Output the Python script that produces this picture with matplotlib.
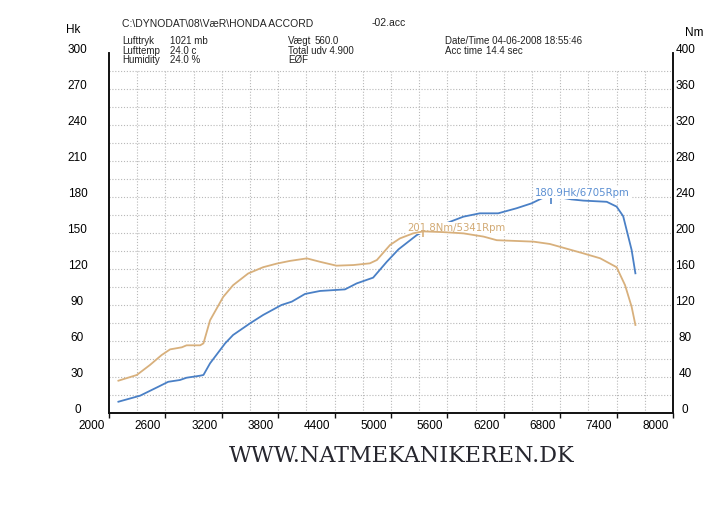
import matplotlib
matplotlib.use("Agg")
import matplotlib.pyplot as plt
from matplotlib.transforms import ScaledTranslation, offset_copy

# ---------------- data ----------------
rpm_hk = [2100, 2330, 2525, 2630, 2755, 2825, 2970, 3005, 3075, 3235, 3320, 3500,
          3640, 3835, 3945, 4085, 4245, 4510, 4635, 4810, 4955, 5080, 5275, 5341,
          5500, 5630, 5770, 5945, 6140, 6335, 6495, 6605, 6705, 6920, 7045, 7295,
          7400, 7470, 7560, 7600]
hk = [9.4, 14.4, 21.9, 26.0, 27.5, 29.4, 31.1, 31.7, 41.4, 58.0, 65.0, 74.7,
      81.7, 90.0, 92.8, 99.2, 101.7, 103.0, 108.0, 112.8, 126.0, 136.4, 148.3, 151.0,
      155.0, 159.4, 163.6, 166.4, 166.4, 170.6, 174.7, 178.9, 180.9, 178.0, 177.0, 176.0,
      172.0, 164.0, 135.8, 116.4]

rpm_nm = [2100, 2295, 2435, 2560, 2650, 2775, 2825, 2970, 3005, 3075, 3215, 3320,
          3480, 3640, 3785, 3925, 4105, 4245, 4420, 4600, 4775, 4850, 4990, 5095,
          5235, 5341, 5550, 5770, 5985, 6125, 6515, 6690, 7045, 7225, 7400, 7490,
          7560, 7600]
nm = [35.9, 42.2, 53.3, 64.4, 70.7, 73.0, 75.2, 75.2, 77.4, 103.0, 129.0, 142.0,
      155.0, 162.0, 166.0, 169.0, 171.8, 168.0, 163.7, 164.4, 166.3, 170.0, 186.7, 194.0,
      199.6, 201.8, 201.0, 199.6, 196.0, 192.0, 190.4, 187.8, 177.4, 171.9, 162.0, 142.0,
      118.0, 97.8]

peak_hk, peak_hk_rpm = 180.9, 6705
peak_nm, peak_nm_rpm = 201.8, 5341

x_ticks = list(range(2000, 8001, 600))
hk_ticks = list(range(0, 301, 30))
nm_ticks = list(range(0, 401, 40))
grid_hk = list(range(15, 286, 15))
grid_rpm = list(range(2300, 8000, 300))

header_file = "C:\\DYNODAT\\08\\VæR\\HONDA ACCORD"
header_ext = "-02.acc"
col1_labels = ["Lufttryk", "Lufttemp", "Humidity"]
col1_values = ["1021 mb", "24.0 c", "24.0 %"]
col2_lines = ["Vægt", "Total udv 4.900", "EØF"]
col2_value = "560.0"
col3_lines = ["Date/Time 04-06-2008 18:55:46", "Acc time"]
col3_value = "14.4 sec"
watermark = "WWW.NATMEKANIKEREN.DK"

BLUE = "#4a80c6"
TAN = "#d8b07c"
BLUE_TXT = "#5b8fd2"
TAN_TXT = "#d2aa74"
GRID = "#b8b8b8"

W, H = 728, 525
fig = plt.figure(figsize=(W / 100, H / 100), dpi=100)
fig.patch.set_facecolor("white")

def px(x, y):
    return x / W, 1 - y / H

ax = fig.add_axes([109 / W, 1 - 413 / H, 564 / W, 360 / H])
ax2 = ax.twinx()
ax.set_xlim(2000, 8000)
ax.set_ylim(0, 300)
ax2.set_ylim(0, 400)

for a in (ax, ax2):
    a.spines["top"].set_visible(False)
    for s in ("left", "right", "bottom"):
        a.spines[s].set_linewidth(1.2)
        a.spines[s].set_color("#111111")

# grid (dotted)
ax.hlines(grid_hk, 2000, 8000, colors=GRID, linestyles=(0, (1, 1.6)), linewidth=0.8, zorder=1)
ax.vlines(grid_rpm, 0, 285, colors=GRID, linestyles=(0, (1, 1.6)), linewidth=0.8, zorder=1)

# curves
ax.plot(rpm_hk, hk, color=BLUE, lw=1.3, zorder=2)
ax2.plot(rpm_nm, nm, color=TAN, lw=1.3, zorder=4)

# peak labels
ax.annotate(f"{peak_hk}Hk/{peak_hk_rpm}Rpm", xy=(peak_hk_rpm, peak_hk),
            xytext=(-16, 3), textcoords="offset pixels", ha="left", va="center",
            fontsize=7.3, color=BLUE_TXT, family="DejaVu Sans", zorder=3,
            bbox=dict(boxstyle="square,pad=0.1", fc="white", ec="none"))
ax2.annotate(f"{peak_nm}Nm/{peak_nm_rpm}Rpm", xy=(peak_nm_rpm, peak_nm),
             xytext=(-16, 3), textcoords="offset pixels", ha="left", va="center",
             fontsize=7.3, color=TAN_TXT, family="DejaVu Sans", zorder=3,
             bbox=dict(boxstyle="square,pad=0.1", fc="white", ec="none"))
ax.plot([peak_hk_rpm], [peak_hk], marker="|", ms=4, mew=1.2, color=BLUE, ls="none",
        transform=offset_copy(ax.transData, fig=fig, y=-5, units="dots"), zorder=3)
ax2.plot([peak_nm_rpm], [peak_nm], marker="|", ms=4, mew=1.2, color=TAN, ls="none",
         transform=offset_copy(ax2.transData, fig=fig, y=-3, units="dots"), zorder=5)

# ticks
tick_font = dict(family="Liberation Sans", size=8.5)
ax.set_xticks(x_ticks)
ax.set_xticklabels([str(v) for v in x_ticks], **tick_font)
ax.tick_params(axis="x", direction="out", length=3.5, width=1, pad=1.5, color="#111111")
ax.set_yticks(hk_ticks)
ax.set_yticklabels([str(v) for v in hk_ticks], ha="center", va="baseline", **tick_font)
ax.tick_params(axis="y", length=0, pad=22.7)
ax2.set_yticks(nm_ticks)
ax2.set_yticklabels([str(v) for v in nm_ticks], ha="center", va="baseline", **tick_font)
ax2.tick_params(axis="y", length=0, pad=8.8)
ax2.tick_params(axis="x", length=0)

xoff = ScaledTranslation(-17.5 / 100, 0, fig.dpi_scale_trans)
for lab in ax.get_xticklabels():
    lab.set_transform(lab.get_transform() + xoff)

# axis titles
fig.text(*px(73, 30), "Hk", ha="center", va="center", family="Liberation Sans", size=8.5)
fig.text(*px(694, 33), "Nm", ha="center", va="center", family="Liberation Sans", size=8.5)

# header
hf = dict(family="Liberation Sans", size=7.0, va="center", ha="left", color="#222222")
fig.text(*px(122, 24), header_file, **{**hf, "size": 7.5})
fig.text(*px(372, 23), header_ext, **{**hf, "size": 7.5})
rows = [41, 50.5, 60]
for lab, val, y in zip(col1_labels, col1_values, rows):
    fig.text(*px(122, y), lab, **hf)
    fig.text(*px(170, y), val, **hf)
for txt, y in zip(col2_lines, rows):
    fig.text(*px(288, y), txt, **hf)
fig.text(*px(315, rows[0]), col2_value, **hf)
fig.text(*px(445, rows[0]), col3_lines[0], **hf)
fig.text(*px(445, rows[1]), col3_lines[1], **hf)
fig.text(*px(486, rows[1]), col3_value, **hf)

# watermark
fig.text(*px(402, 456), watermark, ha="center", va="center", family="DejaVu Serif",
         size=16, color="#26262e")

fig.savefig("out.png", dpi=100, facecolor="white")
